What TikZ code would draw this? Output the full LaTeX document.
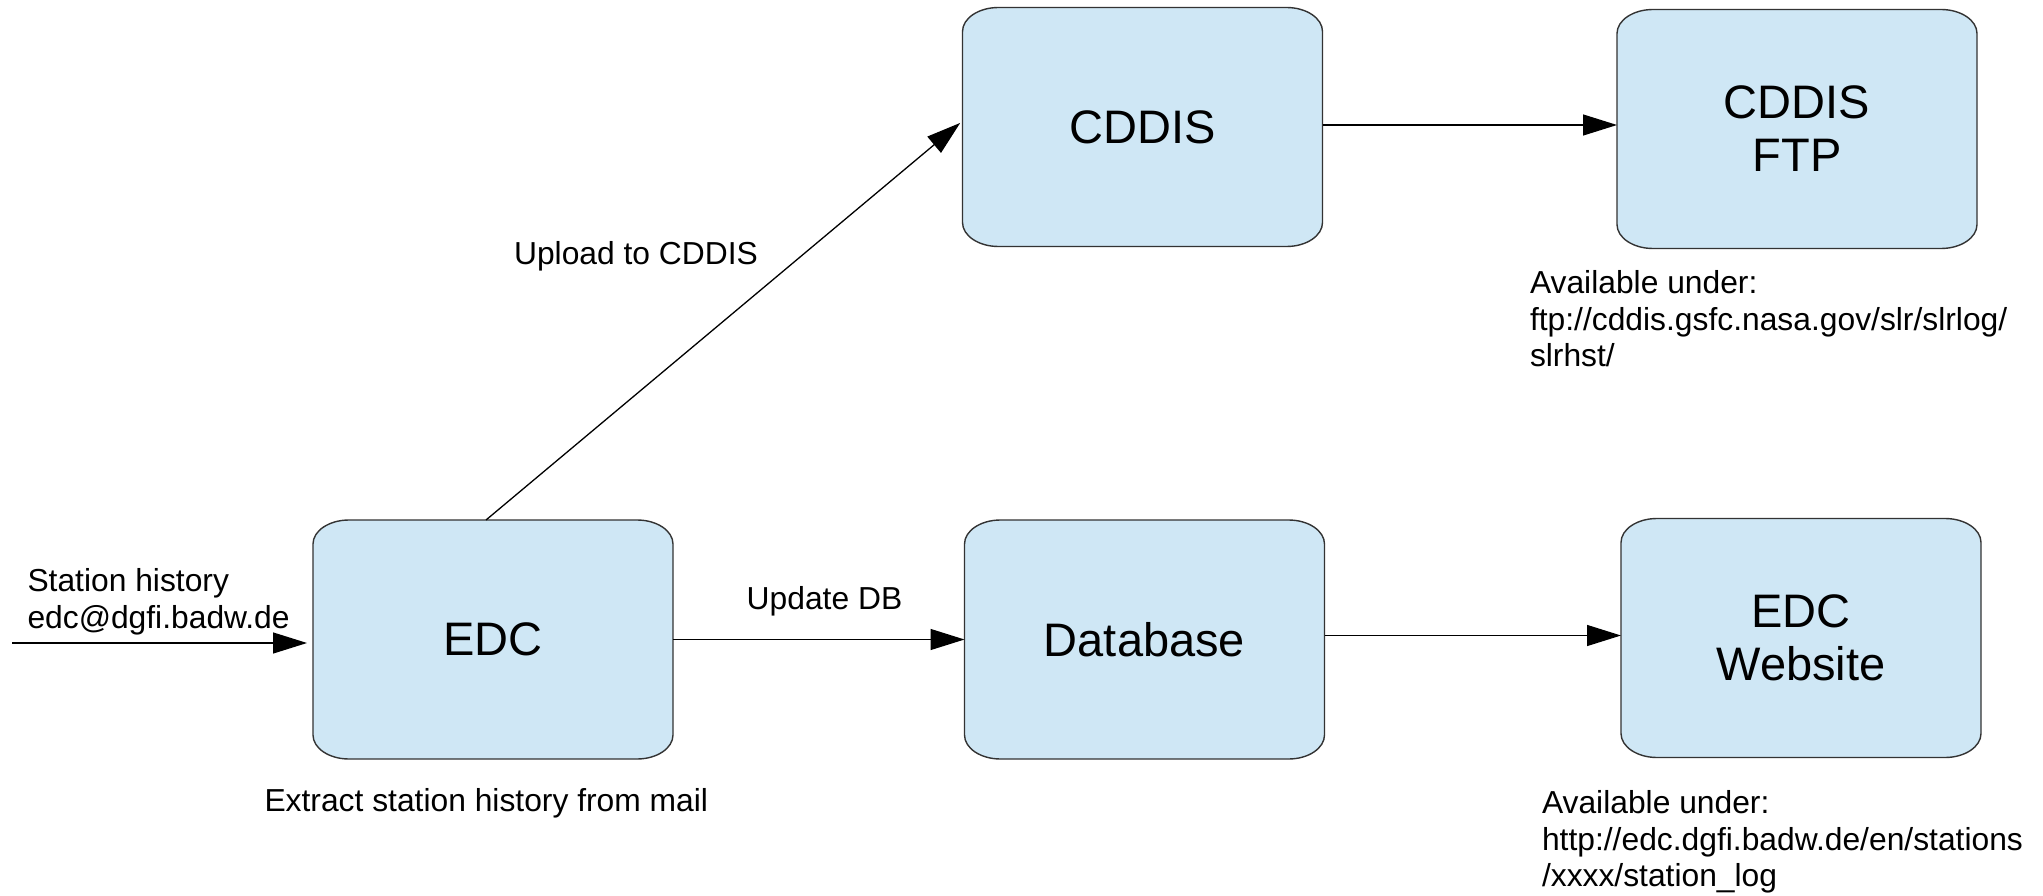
\documentclass[tikz,border=0pt]{standalone}
\usepackage{fontspec}
\setmainfont{Liberation Sans}
\usetikzlibrary{arrows.meta,calc}
\pgfdeclarelayer{bg}
\pgfsetlayers{bg,main}
\definecolor{boxfill}{HTML}{CFE7F5}
\definecolor{boxline}{HTML}{333333}
\newcommand{\bigtxt}{\fontsize{47}{53}\selectfont}
\newcommand{\smalltxt}{\fontsize{31.8}{36.5}\selectfont}
\newcommand{\drawroundbox}[1]{%
\begin{pgfonlayer}{bg}
\draw[boxshape] ([xshift=36pt]#1.north west) -- ([xshift=-36pt]#1.north east)
 arc[start angle=90,end angle=0,x radius=36pt,y radius=24pt]
 -- ([yshift=24pt]#1.south east)
 arc[start angle=0,end angle=-90,x radius=36pt,y radius=24pt]
 -- ([xshift=36pt]#1.south west)
 arc[start angle=270,end angle=180,x radius=36pt,y radius=24pt]
 -- ([yshift=-24pt]#1.north west)
 arc[start angle=180,end angle=90,x radius=36pt,y radius=24pt] -- cycle;
\end{pgfonlayer}}
\begin{document}
\begin{tikzpicture}[x=1pt,y=1pt,
  box/.style={minimum width=360pt,minimum height=239pt,inner sep=0pt,outer sep=0pt,align=center,font=\bigtxt},
  boxshape/.style={fill=boxfill,draw=boxline,line width=1.4pt},
  conn/.style={line width=1.3pt,-{Triangle[length=34pt,width=21pt]}},
  lbl/.style={inner sep=0pt,outer sep=0pt,font=\smalltxt}]
\useasboundingbox (0,0) rectangle (2043,-896);
\node[box] (cddis) at (1142.5,-127) {CDDIS};
\node[box] (ftp) at (1797,-129) {CDDIS\\FTP};
\node[box] (edc) at (493,-639.5) {EDC};
\node[box] (db) at (1144.5,-639.5) {Database};
\node[box] (web) at (1801,-638) {EDC\\Website};
\drawroundbox{cddis}
\drawroundbox{ftp}
\drawroundbox{edc}
\drawroundbox{db}
\drawroundbox{web}
\coordinate (src) at (12,-643);
\draw[conn,shorten >=6pt] (src) -- (src -| edc.west);
\draw[conn] (edc.east) -- (db.west);
\draw[conn,shorten >=3pt] ([xshift=-7pt]edc.north) -- ([yshift=6pt]cddis.west);
\draw[conn] ([yshift=2pt]cddis.east) -- ([yshift=2pt]cddis.east -| ftp.west);
\draw[conn] ([yshift=4pt]db.east) -- ([yshift=4pt]db.east -| web.west);
\node[lbl,anchor=base] (up) at (636,-265) {Upload to CDDIS};
\node[lbl,anchor=base] (udb) at (824.5,-609.7) {Update DB};
\node[lbl,anchor=base west] (ext) at (264.5,-811) {Extract station history from mail};
\node[lbl,anchor=base west,align=left] (sh) at (27.5,-628) {Station history\\edc@dgfi.badw.de};
\node[lbl,anchor=base west,align=left] (av1) at (1530,-366.7) {Available under:\\ftp://cddis.gsfc.nasa.gov/slr/slrlog/\\slrhst/};
\node[lbl,anchor=base west,align=left] (av2) at (1542,-886.7) {Available under:\\http://edc.dgfi.badw.de/en/stations\\/xxxx/station\_log};
\end{tikzpicture}
\end{document}
